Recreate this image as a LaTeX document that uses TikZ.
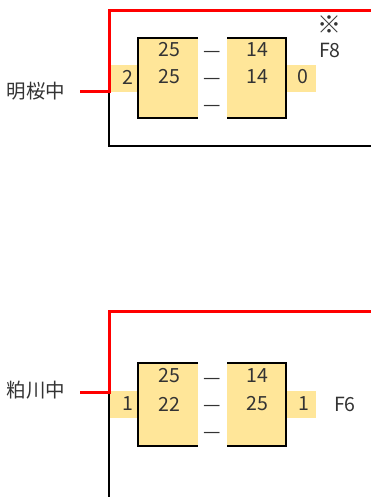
\documentclass[tikz,border=0pt]{standalone}
\usepackage{fontspec}
\setmainfont{Noto Sans CJK JP}
\definecolor{boxfill}{HTML}{FFE699}
\definecolor{txt}{HTML}{333333}
\tikzset{
  redline/.style={draw=red, line width=3pt},
  blackline/.style={draw=black, line width=1.2pt},
  boxline/.style={draw=black, line width=2pt},
  lbl/.style={inner sep=0pt, text=txt, font=\fontsize{19.5}{21}\selectfont},
  dashlbl/.style={inner sep=0pt, text=txt, font=\fontsize{19.5}{21}\selectfont, yshift=-4pt},
}
\begin{document}
\begin{tikzpicture}[x=1pt,y=-1pt]
\useasboundingbox (0,0) rectangle (371,497);
% ---------- top match ----------
\fill[boxfill] (138,38) rectangle (198,118);
\fill[boxfill] (227,38) rectangle (286,118);
\fill[boxfill] (110,65) rectangle (138,92);
\fill[boxfill] (286,65) rectangle (316,92);
\draw[boxline] (198,38) -- (138,38) -- (138,118) -- (198,118);
\draw[boxline] (227,38) -- (286,38) -- (286,118) -- (227,118);
\node[lbl] (t1) at (36,91) {明桜中};
\coordinate (tA) at (80,92);
\coordinate (tB) at (109,92);
\coordinate (tC) at (109,11);
\coordinate (tD) at (371,11);
\coordinate (tE) at (109,146);
\coordinate (tF) at (371,146);
\draw[blackline] (tB) -- (tE) -- (tF);
\draw[redline] (tA) -- (tB) -- (tC) -- (tD);
\node[lbl] (ts1) at (169,50) {25};
\node[lbl] (ts2) at (169,77) {25};
\node[dashlbl] (td1) at (212,50) {—};
\node[dashlbl] (td2) at (212,77) {—};
\node[dashlbl] (td3) at (212,104) {—};
\node[lbl] (to1) at (257,50) {14};
\node[lbl] (to2) at (257,77) {14};
\node[lbl] (tl) at (128,77) {2};
\node[lbl] (tr) at (303,77) {0};
\node[lbl, font=\fontsize{24}{26}\selectfont] (tmark) at (329,25) {※};
\node[lbl] (tcode) at (330,50) {F8};
% ---------- bottom match ----------
\fill[boxfill] (138,363) rectangle (198,446);
\fill[boxfill] (227,363) rectangle (286,446);
\fill[boxfill] (110,391) rectangle (138,418);
\fill[boxfill] (286,391) rectangle (316,418);
\draw[boxline] (198,363) -- (138,363) -- (138,446) -- (198,446);
\draw[boxline] (227,363) -- (286,363) -- (286,446) -- (227,446);
\node[lbl] (b1) at (36,390) {粕川中};
\coordinate (bA) at (80,392);
\coordinate (bB) at (109,392);
\coordinate (bC) at (109,311);
\coordinate (bD) at (371,311);
\coordinate (bE) at (109,497);
\draw[blackline] (bB) -- (bE);
\draw[redline] (bA) -- (bB) -- (bC) -- (bD);
\node[lbl] (bs1) at (169,376) {25};
\node[lbl] (bs2) at (169,404) {22};
\node[dashlbl] (bd1) at (212,377) {—};
\node[dashlbl] (bd2) at (212,404) {—};
\node[dashlbl] (bd3) at (212,431) {—};
\node[lbl] (bo1) at (257,376) {14};
\node[lbl] (bo2) at (257,404) {25};
\node[lbl] (bl) at (128,404) {1};
\node[lbl] (br) at (304,404) {1};
\node[lbl] (bcode) at (345,404) {F6};
\end{tikzpicture}
\end{document}
